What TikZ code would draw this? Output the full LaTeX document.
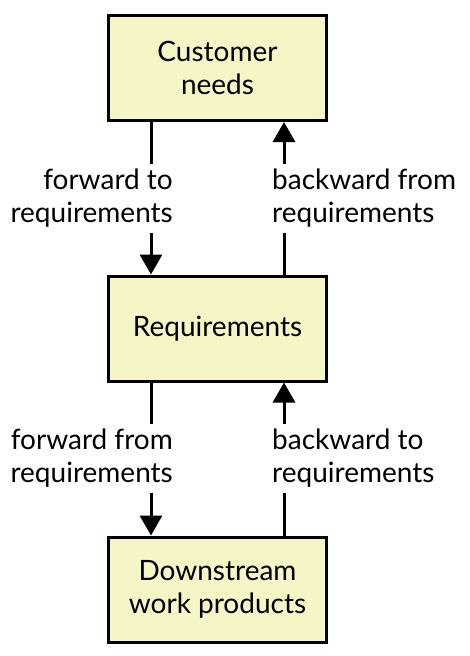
\documentclass[tikz,border=0pt]{standalone}
\usepackage{fontspec}
\setmainfont{Lato}
\usetikzlibrary{arrows.meta}
\definecolor{boxfill}{HTML}{F6F5C6}
\begin{document}
\begin{tikzpicture}[x=1pt,y=-1pt,
  box/.style={draw=black, line width=3pt, fill=boxfill, minimum width=218pt, minimum height=105pt, inner sep=0pt, align=center, font=\fontsize{28}{33}\selectfont},
  lbl/.style={inner xsep=0pt, inner ysep=5.5pt, font=\fontsize{28}{33}\selectfont},
  plain/.style={line width=3pt},
  conn/.style={line width=3pt, -{Triangle[width=22pt,length=20pt]}}]
\useasboundingbox (0,0) rectangle (470,656);
\node[box] (cust) at (217.5,68) {Customer\\needs};
\node[box] (req) at (217.5,328.5) {Requirements};
\node[box] (down) at (217.5,589.5) {Downstream\\work products};
\coordinate (xl) at (151,0);
\coordinate (xr) at (284,0);
\node[lbl, anchor=east, align=right] (ftr) at (173,198.5) {forward to\\requirements};
\node[lbl, anchor=west, align=left] (bfr) at (272,198.5) {backward from\\requirements};
\node[lbl, anchor=east, align=right] (ffr) at (173,458.5) {forward from\\requirements};
\node[lbl, anchor=west, align=left] (btr) at (272,458.5) {backward to\\requirements};
\draw[plain] (cust.south -| xl) -- (ftr.north -| xl);
\draw[conn] (ftr.south -| xl) -- (req.north -| xl);
\draw[plain] (req.north -| xr) -- (bfr.south -| xr);
\draw[conn] (bfr.north -| xr) -- (cust.south -| xr);
\draw[plain] (req.south -| xl) -- (ffr.north -| xl);
\draw[conn] (ffr.south -| xl) -- (down.north -| xl);
\draw[plain] (down.north -| xr) -- (btr.south -| xr);
\draw[conn] (btr.north -| xr) -- (req.south -| xr);
\end{tikzpicture}
\end{document}
